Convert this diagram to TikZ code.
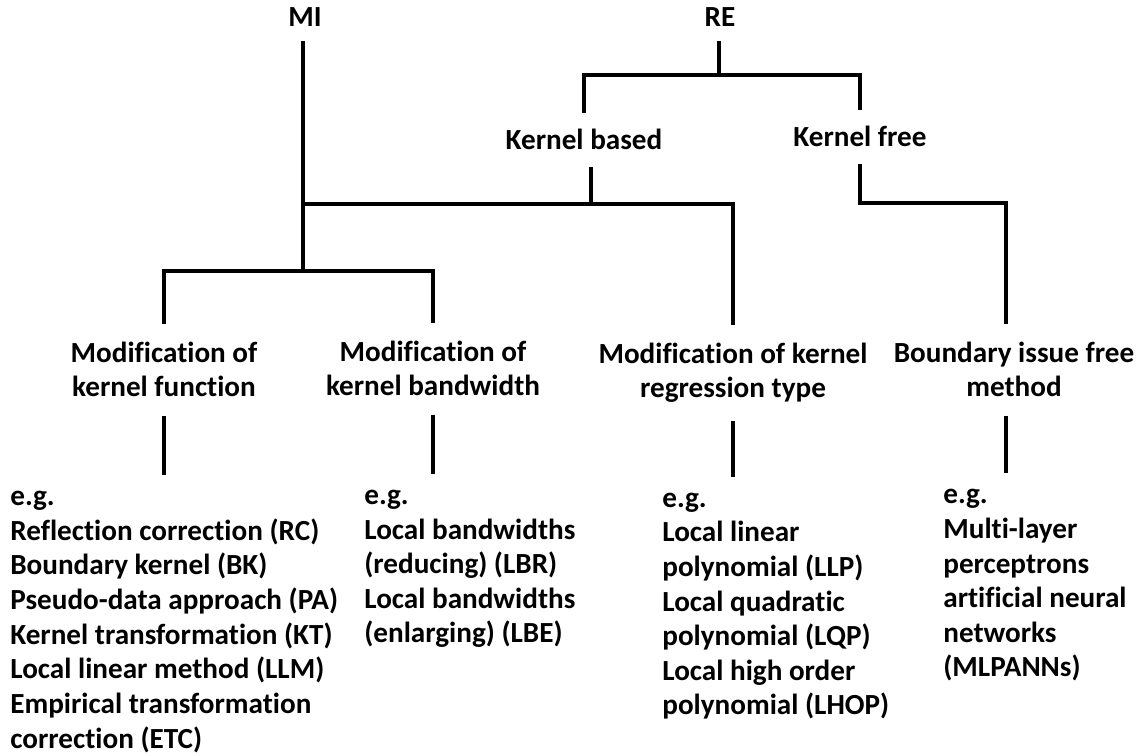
\documentclass[tikz,border=0pt]{standalone}
\usepackage{fontspec}
\setmainfont{Carlito}[Ligatures=CommonOff]

\begin{document}
\begin{tikzpicture}[x=0.02cm, y=-0.02cm,
  tree/.style={line width=2.3pt},
  lbl/.style={font=\bfseries\fontsize{16.6}{19.7}\selectfont, align=center,
    inner xsep=0pt, inner ysep=0.32cm, anchor=base},
  ttl/.style={lbl, inner ysep=0.36cm},
  lst/.style={lbl, align=left, anchor=base west}]
  \useasboundingbox (0,0) rectangle (1140,756);
  % top level
  \node[lbl, inner ysep=0.27cm] (mi) at (305,27) {MI};
  \node[lbl, inner ysep=0.27cm] (re) at (720,27) {RE};
  \node[lbl] (kb) at (584,150) {Kernel based};
  \node[lbl] (kf) at (860,147) {Kernel free};
  % second level (base = last line)
  \node[ttl] (mf) at (164,397) {Modification of\\kernel function};
  \node[ttl] (mb) at (433,396) {Modification of\\kernel bandwidth};
  \node[ttl] (mr) at (733,398) {Modification of kernel\\regression type};
  \node[ttl] (bf) at (1014,397) {Boundary issue free\\method};
  % examples
  \node[lst] (ex1) at (10,748) {e.g.\\Reflection correction (RC)\\Boundary kernel (BK)\\
    Pseudo-data approach (PA)\\Kernel transformation (KT)\\Local linear method (LLM)\\
    Empirical transformation\\correction (ETC)};
  \node[lst] (ex2) at (364,643) {e.g.\\Local bandwidths\\(reducing) (LBR)\\
    Local bandwidths\\(enlarging) (LBE)};
  \node[lst] (ex3) at (662,715) {e.g.\\Local linear\\polynomial (LLP)\\Local quadratic\\
    polynomial (LQP)\\Local high order\\polynomial (LHOP)};
  \node[lst] (ex4) at (943,677) {e.g.\\Multi-layer\\perceptrons\\artificial neural\\
    networks\\(MLPANNs)};
  % joints
  \coordinate (reJ) at (719,75);
  \coordinate (kbJ) at (591,204);
  \coordinate (miJ) at (303,271);
  \coordinate (bfJ) at (1006,203);
  % RE branch
  \draw[tree] (re.south -| reJ) -- (reJ);
  \draw[tree] (kb.north) -- (kb.north |- reJ) -- (kf.north |- reJ) -- (kf.north);
  % MI and kernel based
  \draw[tree] (mi.south -| miJ) -- (miJ);
  \draw[tree] (kb.south -| kbJ) -- (kbJ);
  \draw[tree] (miJ |- kbJ) -- (mr.north |- kbJ) -- (mr.north);
  \draw[tree] (mf.north) -- (mf.north |- miJ) -- (mb.north |- miJ) -- (mb.north);
  % kernel free
  \draw[tree] (kf.south) -- (kf.south |- bfJ) -- (bfJ) -- (bfJ |- bf.north);
  % down to the examples
  \draw[tree] (mf.south) -- (mf.south |- ex1.north);
  \draw[tree] (mb.south) -- (mb.south |- ex2.north);
  \draw[tree] (mr.south) -- (mr.south |- ex3.north);
  \draw[tree] (bf.south -| bfJ) -- (bfJ |- ex4.north);
\end{tikzpicture}
\end{document}
